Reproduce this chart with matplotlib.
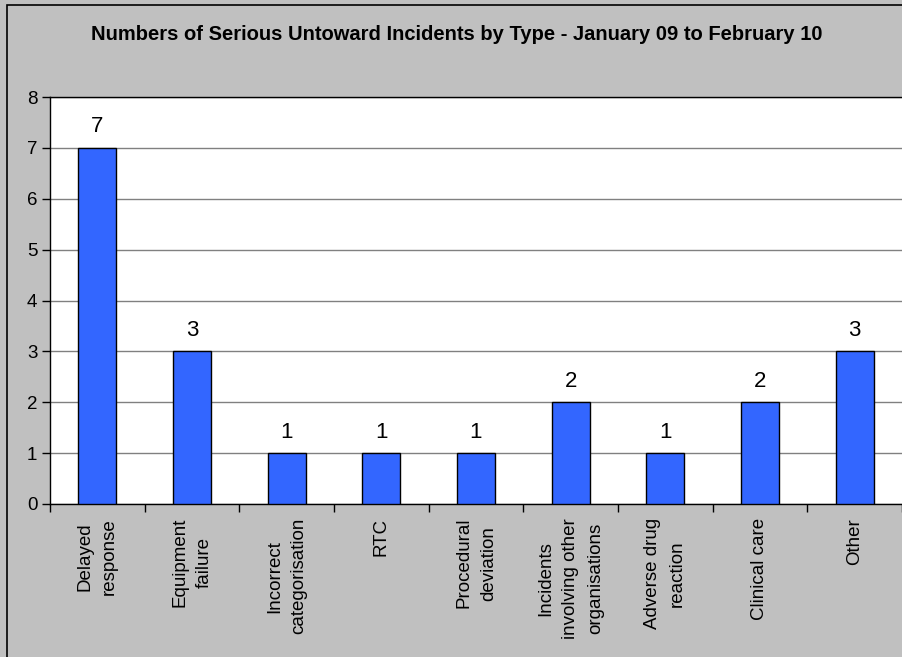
import matplotlib.pyplot as plt
from matplotlib.patches import Rectangle

# datos del gráfico
categorias = ["Delayed\nresponse", "Equipment\nfailure", "Incorrect\ncategorisation",
              "RTC", "Procedural\ndeviation", "Incidents\ninvolving other\norganisations",
              "Adverse drug\nreaction", "Clinical care", "Other"]
valores = [7, 3, 1, 1, 1, 2, 1, 2, 3]
titulo = "Numbers of Serious Untoward Incidents by Type - January 09 to February 10"

plt.rcParams['font.family'] = ['Liberation Sans', 'DejaVu Sans']

W, H = 903, 657
fig = plt.figure(figsize=(W / 100, H / 100), dpi=100, facecolor='#C0C0C0')

# borde exterior (recortado a la derecha y abajo)
fig.patches.append(Rectangle((7 / W, -0.1), 1.2, 1.1 - 5 / H, transform=fig.transFigure,
                             fill=False, edgecolor='black', linewidth=1.2))

ax = fig.add_axes([50 / W, (H - 504) / H, 852 / W, 407 / H])
ax.set_facecolor('white')

x = list(range(len(categorias)))
ax.bar(x, valores, width=0.4, color='#3366FF', edgecolor='black', linewidth=1, zorder=3)

for xi, v in zip(x, valores):
    ax.annotate(str(v), (xi, v), xytext=(0, 7.5), textcoords='offset points',
                ha='center', va='bottom', fontsize=16)

ax.set_xlim(-0.5, len(categorias) - 0.5)
ax.set_ylim(0, 8)
ax.set_yticks(range(0, 9))
ax.tick_params(axis='y', labelsize=13.5, length=6, width=1, pad=3)
ax.yaxis.grid(True, color='#808080', linewidth=1, zorder=0)

# marcas del eje x en los límites de las categorías
ax.set_xticks([i - 0.5 for i in range(len(categorias) + 1)])
ax.set_xticklabels([])
ax.set_xticks(x, minor=True)
ax.set_xticklabels(categorias, minor=True, rotation=90, ha='center', va='top',
                   multialignment='center', fontsize=13.5, linespacing=1.6)
ax.tick_params(axis='x', which='major', length=6, width=1)
ax.tick_params(axis='x', which='minor', length=0, pad=10)

for s in ax.spines.values():
    s.set_color('black')
    s.set_linewidth(1)
ax.spines['right'].set_visible(False)

fig.text(457 / W, 1 - 34 / H, titulo, ha='center', va='center', fontsize=14.5,
         fontweight='bold', family=['Liberation Sans Narrow', 'Liberation Sans', 'DejaVu Sans'])

fig.savefig('out.png', dpi=100, facecolor=fig.get_facecolor())
